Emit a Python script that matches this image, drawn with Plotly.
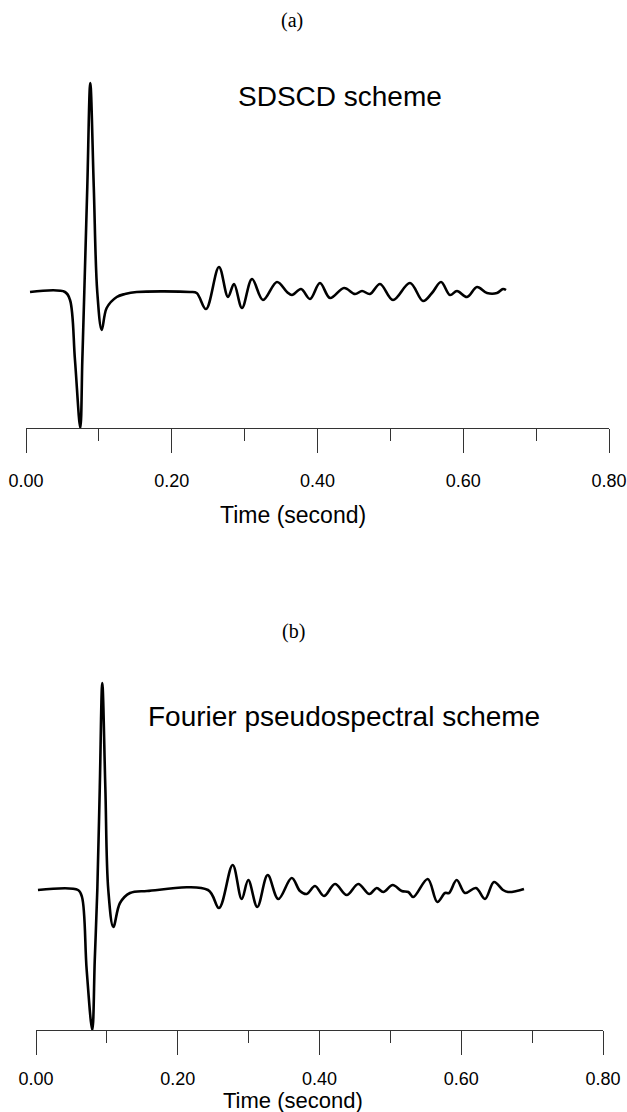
import plotly.graph_objects as go

# ---- data (time in seconds, amplitude in arbitrary units) ----
t_sdscd = [0.0055, 0.0535, 0.0604, 0.0672, 0.0745, 0.0773, 0.0800, 0.0841, 0.0882,
           0.0930, 0.0978, 0.1039, 0.1107, 0.1245, 0.1358, 0.1519, 0.2250, 0.2342,
           0.2470, 0.2648, 0.2772, 0.2854, 0.2964, 0.3101, 0.3252, 0.3444, 0.3581,
           0.3650, 0.3774, 0.3897, 0.4034, 0.4172, 0.4364, 0.4515, 0.4611, 0.4720,
           0.4858, 0.5036, 0.5269, 0.5448, 0.5571, 0.5695, 0.5818, 0.5914, 0.6052,
           0.6189, 0.6326, 0.6463, 0.6545, 0.6587]
a_sdscd = [0, 0, -8, -68, -136, -68, 0, 105, 209,
           105, 0, -38, -16, -5, -2, 0, 0, -1,
           -17, 25, -5, 8, -16, 13, -8, 10, 0,
           -3, 3, -7, 9, -6, 4, -2, 1, -2,
           8, -8, 9, -9, -1, 10, -3, 1, -5,
           5, -1, -1, 3, 2]

t_fourier = [0.0028, 0.0593, 0.0649, 0.0715, 0.0794, 0.0829, 0.0865, 0.0900, 0.0935,
             0.0978, 0.1020, 0.1091, 0.1185, 0.1326, 0.1566, 0.2427,
             0.2582, 0.2775, 0.2902, 0.2995, 0.3122, 0.3269, 0.3419, 0.3608, 0.3725,
             0.3819, 0.3937, 0.4063, 0.4219, 0.4384, 0.4547, 0.4703, 0.4807, 0.4900,
             0.5033, 0.5160, 0.5253, 0.5323, 0.5527, 0.5662, 0.5771, 0.5827, 0.5936,
             0.6053, 0.6208, 0.6335, 0.6462, 0.6589, 0.6660, 0.6782, 0.6885]
a_fourier = [0, 0, -7, -80, -140, -70, 0, 103, 207,
             103, 0, -37, -13, -3, -1, 0,
             -18, 25, -9, 10, -17, 15, -9, 12, -1,
             -4, 4, -6, 6, -5, 6, -4, 2, -2,
             5, -1, -2, -7, 11, -12, -3, -3, 10,
             -3, 2, -9, 8, 0, -2, -1, 1]

tick_vals = [0.0, 0.2, 0.4, 0.6, 0.8]
tick_text = ["0.00", "0.20", "0.40", "0.60", "0.80"]
minor_vals = [0.1, 0.3, 0.5, 0.7]
panel_labels = ["(a)", "(b)"]
scheme_names = ["SDSCD scheme", "Fourier pseudospectral scheme"]
x_title = "Time (second)"

W, H = 627, 1112


def py(px):
    return 1 - px / H


fig = go.Figure()
fig.add_trace(go.Scatter(x=t_sdscd, y=a_sdscd, mode="lines",
                         line=dict(color="black", width=2.6, shape="spline", smoothing=1.0),
                         xaxis="x", yaxis="y", showlegend=False))
fig.add_trace(go.Scatter(x=t_fourier, y=a_fourier, mode="lines",
                         line=dict(color="black", width=2.6, shape="spline", smoothing=1.0),
                         xaxis="x2", yaxis="y2", showlegend=False))


def axis_style(standoff):
    return dict(
        range=[0, 0.8], tickmode="array", tickvals=tick_vals, ticktext=tick_text,
        ticks="outside", ticklen=24, tickwidth=1, tickcolor="#333",
        showline=True, linecolor="#333", linewidth=1, showgrid=False, zeroline=False,
        tickfont=dict(family="Liberation Sans, Arial", size=18, color="black"),
        ticklabelstandoff=standoff, automargin=False, fixedrange=True,
        minor=dict(tickmode="array", tickvals=minor_vals, ticks="outside", ticklen=12,
                   tickwidth=1, tickcolor="#333", showgrid=False),
    )


fig.update_layout(
    width=W, height=H,
    margin=dict(l=0, r=0, t=0, b=0),
    paper_bgcolor="white", plot_bgcolor="white",
    xaxis=dict(domain=[26 / W, 609 / W], anchor="y", **axis_style(12)),
    yaxis=dict(domain=[py(428), py(60)], range=[-136, 232], visible=False, fixedrange=True),
    xaxis2=dict(domain=[36 / W, 603 / W], anchor="y2", **axis_style(8)),
    yaxis2=dict(domain=[py(1030), py(670)], range=[-140, 220], visible=False, fixedrange=True),
)

ann = []
ann.append(dict(text=panel_labels[0], x=292 / W, y=py(20), xref="paper", yref="paper",
                showarrow=False, xanchor="center", yanchor="middle",
                font=dict(family="Liberation Serif, Times New Roman", size=20, color="black")))
ann.append(dict(text=panel_labels[1], x=293 / W, y=py(631), xref="paper", yref="paper",
                showarrow=False, xanchor="center", yanchor="middle",
                font=dict(family="Liberation Serif, Times New Roman", size=20, color="black")))
ann.append(dict(text=scheme_names[0], x=340 / W, y=py(96), xref="paper", yref="paper",
                showarrow=False, xanchor="center", yanchor="middle",
                font=dict(family="Liberation Sans, Arial", size=28, color="black")))
ann.append(dict(text=scheme_names[1], x=344 / W, y=py(716), xref="paper", yref="paper",
                showarrow=False, xanchor="center", yanchor="middle",
                font=dict(family="Liberation Sans, Arial", size=28, color="black")))
ann.append(dict(text=x_title, x=293 / W, y=py(515), xref="paper", yref="paper",
                showarrow=False, xanchor="center", yanchor="middle",
                font=dict(family="Liberation Sans, Arial", size=23, color="black")))
ann.append(dict(text=x_title, x=293 / W, y=py(1100), xref="paper", yref="paper",
                showarrow=False, xanchor="center", yanchor="middle",
                font=dict(family="Liberation Sans, Arial", size=22, color="black")))
fig.update_layout(annotations=ann)

fig.write_html("out.html", config={"displayModeBar": False})
